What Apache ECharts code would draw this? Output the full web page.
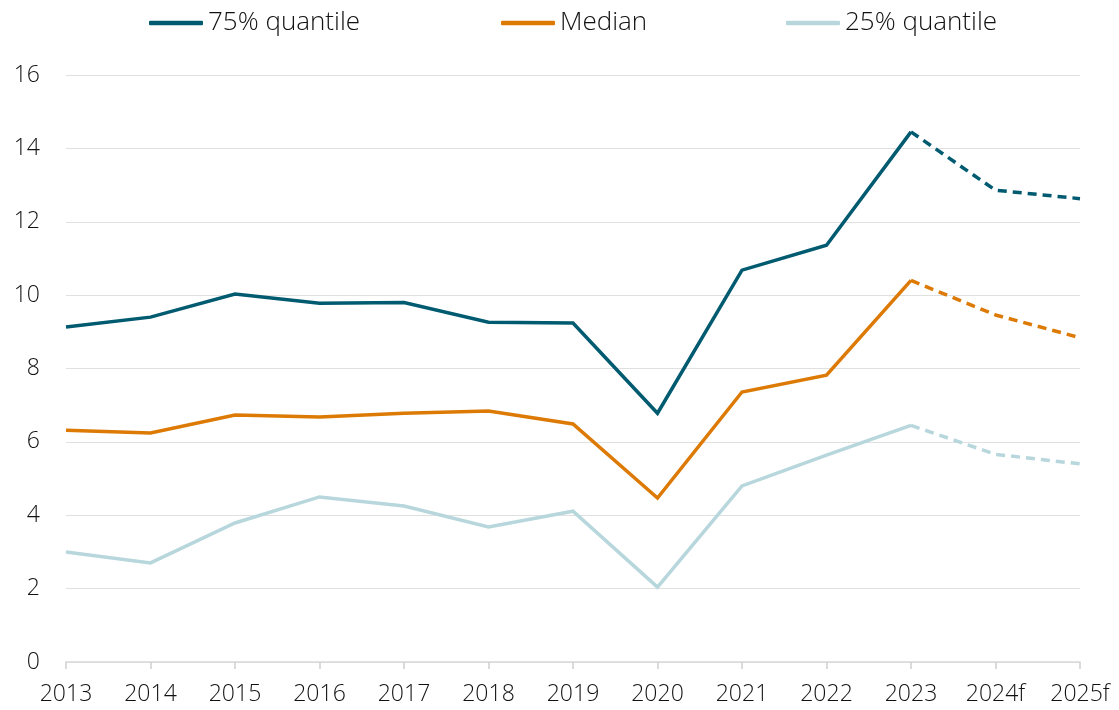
<!DOCTYPE html>
<html><head><meta charset="utf-8">
<script src="https://cdn.jsdelivr.net/npm/echarts@6/dist/echarts.min.js"></script>
<style>html,body{margin:0;padding:0;background:#fff}#c{width:1119px;height:710px}</style>
</head><body><div id="c"></div>
<script>
const categories = ['2013','2014','2015','2016','2017','2018','2019','2020','2021','2022','2023','2024f','2025f'];
const q75 = [9.13, 9.40, 10.03, 9.78, 9.80, 9.26, 9.24, 6.78, 10.68, 11.36, 14.45, 12.86, 12.63];
const median = [6.32, 6.24, 6.73, 6.68, 6.78, 6.84, 6.49, 4.47, 7.36, 7.82, 10.40, 9.46, 8.84];
const q25 = [3.00, 2.70, 3.79, 4.50, 4.25, 3.68, 4.11, 2.04, 4.80, 5.64, 6.45, 5.66, 5.40];
const yTicks = [0, 2, 4, 6, 8, 10, 12, 14, 16];
const forecastStart = 10; // index of 2023

const colors = {q75: '#005b70', median: '#dc7a05', q25: '#b7d7dd'};
const FONT = '"Open Sans", sans-serif';

function solidPart(arr){ return arr.map((v,i)=> i<=forecastStart ? v : null); }
function dashPart(arr){ return arr.map((v,i)=> i>=forecastStart ? v : null); }

function mkSeries(name, arr, color){
  return [
    {name, type:'line', data: solidPart(arr), symbol:'none', lineStyle:{color, width:3.5, join:'miter'}, itemStyle:{color}, z:3},
    {name, type:'line', data: dashPart(arr), symbol:'none', lineStyle:{color, width:3.5, type:[9,6]}, itemStyle:{color}, z:3}
  ];
}

function mkLegend(name, left){
  return {show:true, left, top:10, padding:0, data:[{name, icon:'roundRect'}], itemWidth:54, itemHeight:4.5, itemGap:0,
    textStyle:{fontFamily:FONT, fontSize:26, fontWeight:300, color:'#111'}, selectedMode:false};
}

const chart = echarts.init(document.getElementById('c'), null, {renderer:'canvas'});
chart.setOption({
  animation:false,
  backgroundColor:'#fff',
  legend:[mkLegend('75% quantile',149), mkLegend('Median',501), mkLegend('25% quantile',786)],
  grid:{left:66, right:39, top:75, bottom:48, containLabel:false},
  xAxis:{type:'category', data:categories, boundaryGap:false,
    axisLine:{lineStyle:{color:'#d9d9d9', width:1.5}},
    axisTick:{show:true, length:7, lineStyle:{color:'#d0d0d0', width:1.5}},
    axisLabel:{fontFamily:FONT, fontSize:23, fontWeight:300, color:'#111', margin:21, interval:0}},
  yAxis:{type:'value', min:yTicks[0], max:yTicks[yTicks.length-1], interval:2,
    axisLine:{show:false}, axisTick:{show:false},
    splitLine:{lineStyle:{color:'#e0e0e0', width:1.2}},
    axisLabel:{fontFamily:FONT, fontSize:23, fontWeight:300, color:'#111', margin:26}},
  series:[...mkSeries('75% quantile', q75, colors.q75), ...mkSeries('Median', median, colors.median), ...mkSeries('25% quantile', q25, colors.q25)]
});
</script></body></html>
